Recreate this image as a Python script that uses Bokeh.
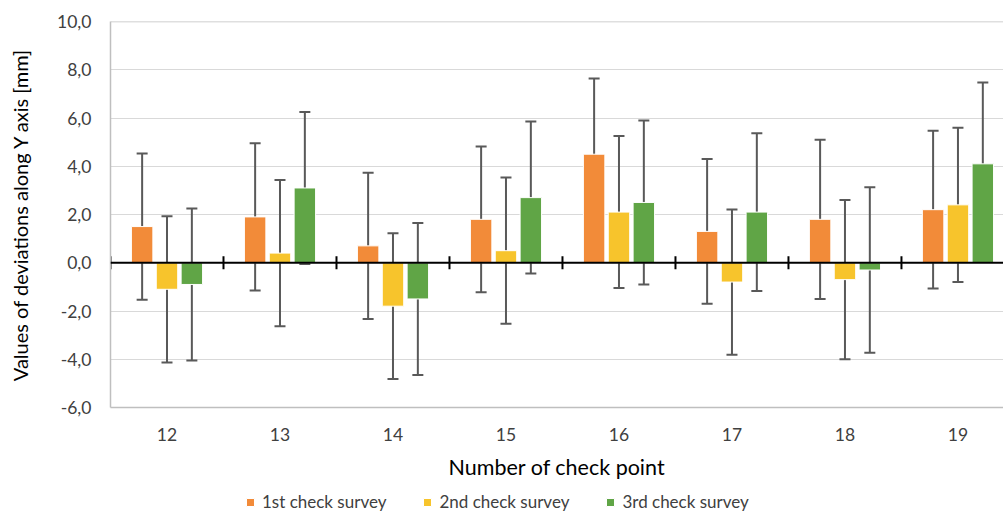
from bokeh.plotting import figure
from bokeh.layouts import column
from bokeh.models import (Range1d, FixedTicker, Whisker, TeeHead, ColumnDataSource,
                          Span, Legend, LegendItem)
from bokeh.embed import file_html
from bokeh.resources import INLINE
import math

# ---------------- data ----------------
points = ["12", "13", "14", "15", "16", "17", "18", "19"]
series_names = ["1st check survey", "2nd check survey", "3rd check survey"]
s1_vals = [1.5, 1.9, 0.7, 1.8, 4.5, 1.3, 1.8, 2.2]
s2_vals = [-1.1, 0.4, -1.8, 0.5, 2.1, -0.8, -0.7, 2.4]
s3_vals = [-0.9, 3.1, -1.5, 2.7, 2.5, 2.1, -0.3, 4.1]
s1_err = [3.03, 3.05, 3.03, 3.02, 3.14, 3.00, 3.30, 3.27]
s2_err = [3.03, 3.03, 3.02, 3.03, 3.15, 3.01, 3.30, 3.20]
s3_err = [3.15, 3.15, 3.15, 3.15, 3.40, 3.27, 3.43, 3.37]
y_ticks = [-6, -4, -2, 0, 2, 4, 6, 8, 10]

colors = ["#F28B39", "#F7C42C", "#60A546"]
FONT = "Lato"

p = figure(frame_width=893, frame_height=386, output_backend="svg", toolbar_location=None,
           x_range=Range1d(0, 7.903), y_range=Range1d(-6, 10),
           min_border_left=110, min_border_right=0, min_border_top=21,
           min_border_bottom=80)
p.outline_line_color = None
p.background_fill_color = "white"
p.border_fill_color = "white"

# grid
p.xgrid.grid_line_color = None
p.ygrid.ticker = FixedTicker(ticks=y_ticks)
p.ygrid.grid_line_color = "#D9D9D9"
p.ygrid.grid_line_width = 1

# y axis
ya = p.yaxis[0]
ya.ticker = FixedTicker(ticks=y_ticks)
ya.major_label_overrides = {t: f"{t:.1f}".replace(".", ",") for t in y_ticks}
ya.major_tick_line_color = None
ya.major_tick_out = 0
ya.major_tick_in = 0
ya.minor_tick_line_color = None
ya.axis_line_color = "#BFBFBF"
ya.axis_line_width = 1.5
ya.major_label_text_font = FONT
ya.major_label_text_font_size = "17.5px"
ya.major_label_text_color = "#404040"
ya.major_label_standoff = 19
ya.axis_label = "Values of deviations along Y axis [mm]"
ya.axis_label_text_font = FONT
ya.axis_label_text_font_size = "20px"
ya.axis_label_text_font_style = "normal"
ya.axis_label_text_color = "#000000"
ya.axis_label_standoff = 22

# x axis
xa = p.xaxis[0]
centers = [i + 0.5 for i in range(len(points))]
xa.ticker = FixedTicker(ticks=centers)
xa.major_label_overrides = {c: lab for c, lab in zip(centers, points)}
xa.major_tick_line_color = None
xa.major_tick_out = 0
xa.major_tick_in = 0
xa.minor_tick_line_color = None
xa.axis_line_color = "#BFBFBF"
xa.axis_line_width = 1.5
xa.major_label_text_font = FONT
xa.major_label_text_font_size = "17.5px"
xa.major_label_text_color = "#404040"
xa.major_label_standoff = 20
xa.axis_label = "Number of check point"
xa.axis_label_text_font = FONT
xa.axis_label_text_font_size = "21.5px"
xa.axis_label_text_font_style = "normal"
xa.axis_label_text_color = "#000000"
xa.axis_label_standoff = 10

# top border
p.add_layout(Span(location=10, dimension="width", line_color="#BFBFBF", line_width=1.5))

# bars
offsets = [-0.22, 0.0, 0.22]
bar_w = 0.19
renderers = []
for vals, errs, off, col in zip([s1_vals, s2_vals, s3_vals], [s1_err, s2_err, s3_err],
                                offsets, colors):
    xs = [c + off for c in centers]
    src = ColumnDataSource(dict(x=xs, top=vals,
                                upper=[v + e for v, e in zip(vals, errs)],
                                lower=[v - e for v, e in zip(vals, errs)]))
    r = p.vbar(x="x", top="top", bottom=0, width=bar_w, source=src,
               fill_color=col, line_color="white", line_width=1)
    renderers.append((r, src))

# zero line and category tick marks
p.add_layout(Span(location=0, dimension="width", line_color="black", line_width=2))
bounds = list(range(len(points) + 1))
p.scatter(x=bounds, y=[0] * len(bounds), marker="dash", angle=math.pi / 2, size=13,
          line_color="black", line_width=2)

for r, src in renderers:
    w = Whisker(base="x", upper="upper", lower="lower", source=src,
                line_color="#595959", line_width=2,
                upper_head=TeeHead(size=11, line_color="#595959", line_width=2),
                lower_head=TeeHead(size=11, line_color="#595959", line_width=2))
    p.add_layout(w)

# ---------------- legend strip ----------------
# same series drawn into a strip whose y range lies far above the data, so
# only the legend swatches and labels are visible
pl = figure(width=1003, height=27, output_backend="svg", toolbar_location=None,
            x_range=Range1d(0, 7.903), y_range=Range1d(100, 101),
            x_axis_location=None, y_axis_location=None,
            min_border_left=0, min_border_right=0, min_border_top=0, min_border_bottom=0)
pl.outline_line_color = None
pl.grid.grid_line_color = None
pl.border_fill_color = "white"
leg_items = []
for name, col, (r, src) in zip(series_names, colors, renderers):
    lr = pl.vbar(x="x", top="top", bottom=0, width=bar_w, source=src,
                 fill_color=col, line_color="white", line_width=1)
    leg_items.append(LegendItem(label=name, renderers=[lr]))
legend = Legend(items=leg_items, orientation="horizontal", location=(135, 2),
                label_text_font=FONT, label_text_font_size="17px", label_text_color="#404040",
                glyph_width=10, glyph_height=10, label_standoff=7, spacing=36,
                padding=0, margin=0, border_line_color=None, background_fill_alpha=0)
pl.add_layout(legend)

layout = column(p, pl, spacing=0)
open("out.html", "w").write(file_html(layout, INLINE))
